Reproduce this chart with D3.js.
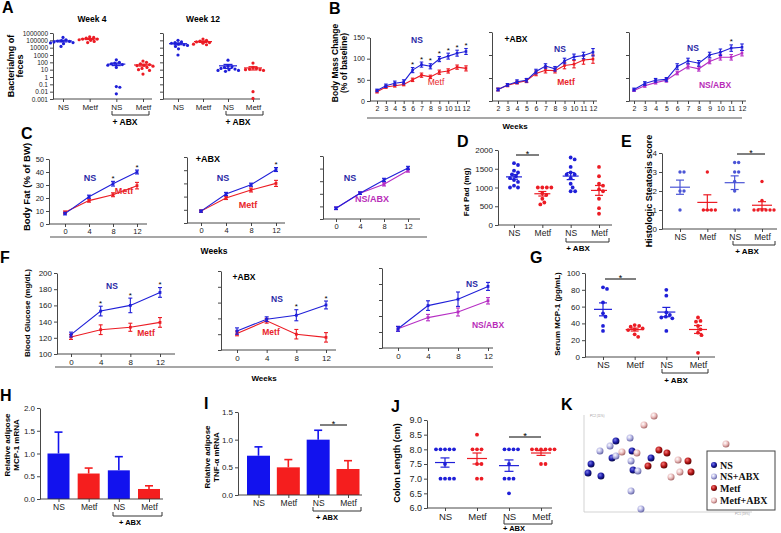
<!DOCTYPE html>
<html><head><meta charset="utf-8">
<script src="https://cdn.jsdelivr.net/npm/d3@7"></script>
<style>body{margin:0;background:#fff}svg{display:block}</style>
</head><body>
<script>
// ================= DATA =================
const groupKeys = ['NS','Metf','NS+ABX','Metf+ABX'];
const groupLabels = ['NS','Metf','NS','Metf'];

// A: bacteria / mg feces (log)
const aTicks = [1000000,100000,10000,1000,100,10,1,0.1,0.01,0.001];
const a4NS = [250000,120000,90000,80000,70000,60000,50000,45000,35000,15000];
const a4Metf = [300000,250000,200000,150000,150000,120000,100000,70000,50000];
const a4NSabx = [220,100,80,60,50,40,20,0.05,0.04,0.005];
const a4Metfabx = [150,100,60,50,40,35,30,20,15,10,8,2.5];
const a12NS = [100000,60000,50000,40000,30000,25000,20000,15000,7000,1000];
const a12Metf = [150000,100000,80000,60000,50000,40000,30000,25000];
const a12NSabx = [200,30,25,20,15,12,10,8,8,6];
const a12Metfabx = [80,20,15,12,10,10,8,0.01,0.0012];

// B: body mass change (% of baseline)
const bWeeks = [2,3,4,5,6,7,8,9,10,11,12];
const b1NS = [25,36,42,45,73,86,82,99,106,113,117];
const b1NSerr = [3,4,5,5,6,6,6,6,7,7,7];
const b1Metf = [22,33,36,39,50,61,57,68,71,80,77];
const b1Metferr = [3,3,3,3,4,5,4,5,5,5,6];
const b2NS = [25,35,42,45,64,76,70,87,96,99,106];
const b2NSerr = [3,3,4,4,5,5,5,6,6,7,8];
const b2Metf = [25,34,40,44,60,67,66,77,80,89,91];
const b2Metferr = [3,3,3,4,5,6,5,7,8,9,9];
const b3NS = [25,38,45,47,75,87,82,100,106,115,117];
const b3NSerr = [3,4,4,4,6,6,6,6,7,7,7];
const b3NSabx = [23,33,40,45,61,75,70,86,95,95,104];
const b3NSabxerr = [2,3,3,4,4,5,5,5,6,6,6];
const b1Stars = [6,7,8,9,10,11,12];
const b3Stars = [11];

// C: body fat (% of BW)
const cWeeks = [0,4,8,12];
const c1NS = [8,21,31,40], c1NSerr = [1,1.2,1.8,1.5];
const c1Metf = [9,18,22.5,29.5], c1Metferr = [1,1.2,1.5,2.5];
const c2NS = [9,22,29,40.5], c2NSerr = [0.8,1.2,1.2,1.5];
const c2Metf = [9,19,25,30], c2Metferr = [0.8,1.2,1.5,2.3];
const c3NS = [8.5,20.5,31,40.5], c3NSerr = [1,1,1.3,1.3];
const c3NSabx = [8.5,20.5,27.5,38.5], c3NSabxerr = [1,1,1.3,1.3];
const c1Stars = [8,12], c2Stars = [12];

// D: fat pad (mg)
const dNS = [1650,1600,1450,1400,1350,1300,1250,1200,1150,1050,1000,1000];
const dMetf = [1000,1000,1000,1000,850,800,700,600,550];
const dNSabx = [1800,1750,1550,1400,1350,1350,1250,1100,1000,900,900];
const dMetfabx = [1550,1300,1100,1050,950,900,700,450,300];

// E: histologic steatosis score
const eNS = [3,3,2,2,1];
const eMetf = [3,1,1,1,1];
const eNSabx = [3.5,3.5,3,3,2.5,2,1,1];
const eMetfabx = [2.5,1.5,1,1,1,1,1,1];

// F: blood glucose (mg/dL)
const fWeeks = [0,4,8,12];
const f1NS = [124,153,160,176], f1NSerr = [3,6,9,6];
const f1Metf = [121,130,133,139], f1Metferr = [3,6,5,6];
const f2NS = [124,139,144,157], f2NSerr = [4,3,7,5];
const f2Metf = [121,137,120,116], f2Metferr = [3,3,6,6];
const f3NS = [124,153,161,177], f3NSerr = [3,6,9,5];
const f3NSabx = [124,138,145,159], f3NSabxerr = [3,4,5,4];
const f1Stars = [4,8,12], f2Stars = [8,12];

// G: serum MCP-1 (pg/mL)
const gNS = [83,81,65,52,48,37,31];
const gMetf = [38,37,36,34,33,32,27,24];
const gNSabx = [80,73,53,50,48,47,46,31];
const gMetfabx = [47,43,42,37,33,29,26,5];

// H / I: relative adipose mRNA (bars, mean + SEM)
const hMeans = [1.0,0.56,0.63,0.22], hErr = [0.47,0.12,0.30,0.07];
const iMeans = [0.71,0.50,1.0,0.47], iErr = [0.16,0.14,0.17,0.15];

// J: colon length (cm)
const jNS = [8,8,8,8,8,7.5,7,7,7,7];
const jMetf = [8.5,8,8,8,7.5,7.5,7,7];
const jNSabx = [8,8,8,8,7.5,7,7,7,6.5];
const jMetfabx = [8,8,8,8,8,8,7.5,7.5];

// K: ordination (PC1, PC2 in %-of-axis units)
const kNS = [[2.4,40.2],[4.2,49.5],[10.1,37.1],[19.0,73.2],[16.7,55.7],[28.6,62.9],[29.2,43.3],[39.9,55.7]];
const kNSabx = [[9.5,62.9],[15.5,68.0],[19.0,57.7],[27.4,76.3],[28.0,52.6],[32.1,42.3],[28.0,21.6],[33.9,3.1]];
const kMetf = [[38.1,47.4],[44.6,63.9],[49.4,60.8],[47.6,48.5],[61.9,52.6],[63.7,41.2]];
const kMetfabx = [[41.7,99],[35.7,89.7],[22.6,61.9],[31.5,60.8],[56.0,53.6],[57.1,41.2],[51.8,36.1],[84.5,70.1]];
const kLegend = ['NS','NS+ABX','Metf','Metf+ABX'];

// ================= STYLE =================
const FONT = "'Liberation Sans', Arial, Helvetica, sans-serif";
const BLUE = '#1f1fd8', RED = '#ec1c24', MAG = '#b62ec4';
const NSL = '#2a2aa6', METL = '#e8252b', ABXL = '#b82cb8';
const AX = '#333';
const BAR_B = '#1212ee', BAR_R = '#f51e1e';

const svg = d3.select('body').append('svg').attr('width',781).attr('height',533)
  .attr('font-family',FONT);

function text(x,y,s,o={}){
  const t = svg.append('text').attr('x',x).attr('y',y).text(s)
    .attr('font-size',o.size||9).attr('font-weight',o.bold?'bold':'normal')
    .attr('fill',o.color||'#000').attr('text-anchor',o.anchor||'middle');
  if(o.rot) t.attr('transform',`rotate(-90,${x},${y})`);
  if(o.family) t.attr('font-family',o.family);
  return t;
}
function letter(x,y,s){ text(x,y,s,{size:16,bold:true,anchor:'start'}); }
function sty(g,fs){
  g.attr('font-family',FONT).attr('font-size',fs);
  g.selectAll('.domain,.tick line').attr('stroke',AX).attr('stroke-width',0.9);
  g.selectAll('text').attr('fill','#222');
}
function yAxis(x,scale,ticks,fmt,fs,labels=true){
  const g = svg.append('g').attr('transform',`translate(${x},0)`)
    .call(d3.axisLeft(scale).tickValues(ticks).tickSize(3).tickSizeOuter(0).tickPadding(2)
      .tickFormat(labels?fmt:()=>''));
  sty(g,fs); return g;
}
function xLine(y,x0,x1){
  svg.append('line').attr('x1',x0).attr('x2',x1).attr('y1',y).attr('y2',y)
    .attr('stroke',AX).attr('stroke-width',0.9);
}
function catAxis(y,x0,x1,xs,fs){
  xLine(y,x0,x1);
  const g = svg.append('g').attr('transform',`translate(0,${y})`)
    .call(d3.axisBottom(xs).tickSize(3).tickPadding(2).tickFormat(d=>groupLabels[groupKeys.indexOf(d)]));
  g.select('.domain').remove(); sty(g,fs);
}
function bracket(x1,x2,y,tx,ty,fs){
  svg.append('path').attr('d',`M${x1},${y-4}V${y}H${x2}V${y-4}`)
    .attr('fill','none').attr('stroke',AX).attr('stroke-width',1);
  text(tx,ty,'+ ABX',{size:fs,bold:true});
}
function sig(x1,x2,y,fs=9){
  svg.append('line').attr('x1',x1).attr('x2',x2).attr('y1',y).attr('y2',y).attr('stroke','#000').attr('stroke-width',1);
  text((x1+x2)/2,y+1.5,'*',{size:fs});
}
function weeksLine(y,x0,x1,ty,tx,fs){
  svg.append('line').attr('x1',x0).attr('x2',x1).attr('y1',y).attr('y2',y)
    .attr('stroke','#8a8a8a').attr('stroke-width',1.6);
  text(tx,ty,'Weeks',{size:fs,bold:true});
}

// dot plot with beeswarm placement and mean ± SEM
function dotGroups(xs,ys,groups,colors,o){
  groups.forEach((vals,gi)=>{
    const cx = xs(groupKeys[gi]);
    const r = o.r, minD = 2*r+0.35;
    const placed = [];
    vals.slice().sort((a,b)=>b-a).forEach(v=>{
      const y = ys(v); let dx = 0;
      for(let k=0;k<300;k++){
        const c = (k%2?1:-1)*Math.ceil(k/2)*0.5;
        if(placed.every(p=>Math.hypot(p.x-c,p.y-y)>=minD)){dx=c;break;}
      }
      placed.push({x:dx,y});
    });
    svg.append('g').selectAll('circle').data(placed).join('circle')
      .attr('cx',d=>cx+d.x).attr('cy',d=>d.y).attr('r',r).attr('fill',colors[gi]);
    const m = d3.mean(vals), se = d3.deviation(vals)/Math.sqrt(vals.length);
    const lo = o.log ? Math.max(m-se, ys.domain()[0]) : m-se;
    const g = svg.append('g').attr('stroke',colors[gi]).attr('stroke-width',1.2);
    g.append('line').attr('x1',cx-o.mw/2).attr('x2',cx+o.mw/2).attr('y1',ys(m)).attr('y2',ys(m));
    g.append('line').attr('x1',cx).attr('x2',cx).attr('y1',ys(lo)).attr('y2',ys(m+se));
    [lo,m+se].forEach(v=>g.append('line').attr('x1',cx-o.cw/2).attr('x2',cx+o.cw/2).attr('y1',ys(v)).attr('y2',ys(v)));
  });
}

// line chart with error bars
function lineChart(o){
  const x = d3.scaleLinear().domain(d3.extent(o.weeks)).range(o.xr);
  const y = d3.scaleLinear().domain(o.yd).range(o.yr);
  yAxis(o.ax,y,o.yt,d3.format('d'),o.fs,o.ylab);
  xLine(o.yr[0],o.ax,o.xe);
  const gx = svg.append('g').attr('transform',`translate(0,${o.yr[0]})`)
    .call(d3.axisBottom(x).tickValues(o.weeks).tickSize(3).tickPadding(2).tickFormat(d3.format('d')));
  gx.select('.domain').remove(); sty(gx,o.fs);
  o.series.forEach(s=>{
    const pts = o.weeks.map((w,i)=>({w,v:s.v[i],e:s.e[i]}));
    svg.append('path').datum(pts).attr('d',d3.line().x(d=>x(d.w)).y(d=>y(d.v)))
      .attr('fill','none').attr('stroke',s.c).attr('stroke-width',1.1);
    const g = svg.append('g').attr('stroke',s.c).attr('stroke-width',1.1);
    pts.forEach(d=>{
      g.append('line').attr('x1',x(d.w)).attr('x2',x(d.w)).attr('y1',y(d.v-d.e)).attr('y2',y(d.v+d.e));
      [d.v-d.e,d.v+d.e].forEach(v=>g.append('line').attr('x1',x(d.w)-o.cap/2).attr('x2',x(d.w)+o.cap/2).attr('y1',y(v)).attr('y2',y(v)));
    });
    svg.append('g').selectAll('rect').data(pts).join('rect')
      .attr('x',d=>x(d.w)-o.ms/2).attr('y',d=>y(d.v)-o.ms/2).attr('width',o.ms).attr('height',o.ms).attr('fill',s.c);
  });
  if(o.stars){
    const s = o.series[o.starSeries];
    o.stars.forEach(w=>{
      const i = o.weeks.indexOf(w);
      text(x(w),y(s.v[i]+s.e[i])-0.5,'*',{size:8});
    });
  }
  return {x,y};
}

// bar chart with upward SEM
function barChart(o){
  const ys = d3.scaleLinear().domain(o.yd).range(o.yr);
  const xs = d3.scalePoint().domain(groupKeys).range(o.xr);
  yAxis(o.ax,ys,o.yt,d3.format('.1f'),o.fs);
  const cols = [BAR_B,BAR_R,BAR_B,BAR_R];
  o.means.forEach((m,i)=>{
    const cx = xs(groupKeys[i]);
    const g = svg.append('g').attr('stroke',cols[i]).attr('stroke-width',1.6);
    g.append('line').attr('x1',cx).attr('x2',cx).attr('y1',ys(m)).attr('y2',ys(m+o.err[i]));
    g.append('line').attr('x1',cx-o.cap/2).attr('x2',cx+o.cap/2).attr('y1',ys(m+o.err[i])).attr('y2',ys(m+o.err[i]));
    svg.append('rect').attr('x',cx-o.bw/2).attr('width',o.bw).attr('y',ys(m)).attr('height',ys(0)-ys(m)).attr('fill',cols[i]);
  });
  catAxis(o.yr[0],o.ax,o.xe,xs,o.xfs);
  return {xs,ys};
}

// ================= PANEL A =================
letter(2,13,'A');
text(92,22,'Week 4',{size:8.5,bold:true});
text(203,22,'Week 12',{size:8.5,bold:true});
text(14,66,'Bacteria/mg of',{size:9,bold:true,rot:true});
text(23,66,'feces',{size:9,bold:true,rot:true});
const yA = d3.scaleLog().domain([0.001,1e6]).range([99,33]);
yAxis(53,yA,aTicks,d=>String(d),6.5);
const xA4 = d3.scalePoint().domain(groupKeys).range([63,143]);
catAxis(99,53,152,xA4,8);
dotGroups(xA4,yA,[a4NS,a4Metf,a4NSabx,a4Metfabx],[BLUE,RED,BLUE,RED],{r:1.6,mw:18,cw:9,log:true});
yAxis(163,yA,aTicks,null,6.5,false);
const xA12 = d3.scalePoint().domain(groupKeys).range([178,253]);
catAxis(99,163,260,xA12,8);
dotGroups(xA12,yA,[a12NS,a12Metf,a12NSabx,a12Metfabx],[BLUE,RED,BLUE,RED],{r:1.6,mw:18,cw:9,log:true});
bracket(112,149,115,125,125,8.5);
bracket(226,263,115,238,125,8.5);

// ================= PANEL B =================
letter(329,14,'B');
text(338,63,'Body Mass Change',{size:8.5,bold:true,rot:true});
text(347,63,'(% of baseline)',{size:8.5,bold:true,rot:true});
const bYT = [0,50,100,150];
lineChart({weeks:bWeeks,ax:370,xr:[377,466],xe:470,yd:[0,150],yr:[101,37.5],yt:bYT,ylab:true,fs:7,cap:3.5,ms:2.6,
  series:[{v:b1Metf,e:b1Metferr,c:RED},{v:b1NS,e:b1NSerr,c:BLUE}],stars:b1Stars,starSeries:1});
lineChart({weeks:bWeeks,ax:492,xr:[498,593],xe:597,yd:[0,150],yr:[101,32],yt:bYT,ylab:false,fs:7,cap:3.5,ms:2.6,
  series:[{v:b2Metf,e:b2Metferr,c:RED},{v:b2NS,e:b2NSerr,c:BLUE}]});
lineChart({weeks:bWeeks,ax:629,xr:[634,742],xe:746,yd:[0,150],yr:[101,32],yt:bYT,ylab:false,fs:7,cap:3.5,ms:2.6,
  series:[{v:b3NSabx,e:b3NSabxerr,c:MAG},{v:b3NS,e:b3NSerr,c:BLUE}],stars:b3Stars,starSeries:1});
text(417,43,'NS',{size:8.5,bold:true,color:NSL});
text(436,85,'Metf',{size:8.5,color:METL});
text(516,42,'+ABX',{size:8.5,bold:true});
text(560,52,'NS',{size:8.5,bold:true,color:NSL});
text(566,85,'Metf',{size:8.5,bold:true,color:METL});
text(693,51,'NS',{size:8.5,bold:true,color:NSL});
text(715,88,'NS/ABX',{size:8.5,bold:true,color:ABXL});
weeksLine(118,367,742,129,515,8);

// ================= PANEL C =================
letter(21,139,'C');
text(30,187,'Body Fat (% of BW)',{size:9.5,bold:true,rot:true});
const cYT = [0,10,20,30,40,50];
lineChart({weeks:cWeeks,ax:49,xr:[65,137],xe:147,yd:[0,50],yr:[224,159],yt:cYT,ylab:true,fs:7.5,cap:4,ms:2.8,
  series:[{v:c1Metf,e:c1Metferr,c:RED},{v:c1NS,e:c1NSerr,c:BLUE}],stars:c1Stars,starSeries:1});
lineChart({weeks:cWeeks,ax:187,xr:[201,276],xe:285,yd:[0,50],yr:[223,157],yt:cYT,ylab:false,fs:7.5,cap:4,ms:2.8,
  series:[{v:c2Metf,e:c2Metferr,c:RED},{v:c2NS,e:c2NSerr,c:BLUE}],stars:c2Stars,starSeries:1});
lineChart({weeks:cWeeks,ax:323,xr:[336,408],xe:420,yd:[0,50],yr:[219,156],yt:cYT,ylab:false,fs:7.5,cap:4,ms:2.8,
  series:[{v:c3NSabx,e:c3NSabxerr,c:MAG},{v:c3NS,e:c3NSerr,c:BLUE}]});
text(90,181,'NS',{size:9,bold:true,color:NSL});
text(124,194,'Metf',{size:9,bold:true,color:METL});
text(208,162,'+ABX',{size:9,bold:true});
text(223,181,'NS',{size:9,bold:true,color:NSL});
text(248,208,'Metf',{size:9,bold:true,color:METL});
text(350,181,'NS',{size:9,bold:true,color:NSL});
text(372,202,'NS/ABX',{size:9,bold:true,color:ABXL});
weeksLine(237,50,427,254,214,8.5);

// ================= PANEL D =================
letter(457,147,'D');
text(469,192,'Fat Pad (mg)',{size:8,bold:true,rot:true});
const yD = d3.scaleLinear().domain([0,2000]).range([225,150]);
yAxis(498,yD,[0,500,1000,1500,2000],d3.format('d'),8);
const xD = d3.scalePoint().domain(groupKeys).range([514,599]);
catAxis(225,498,612,xD,8.5);
dotGroups(xD,yD,[dNS,dMetf,dNSabx,dMetfabx],[BLUE,RED,BLUE,RED],{r:1.9,mw:16,cw:8});
sig(516,539,155);
bracket(566,609,242,578,250.5,8);

// ================= PANEL E =================
letter(621,147,'E');
text(652,191,'Histologic  Steatosis score',{size:9,bold:true,rot:true});
const yE = d3.scaleLinear().domain([0,4]).range([229,153]);
yAxis(662,yE,[0,1,2,3,4],d3.format('d'),8);
const xE = d3.scalePoint().domain(groupKeys).range([680,762]);
catAxis(229,662,777,xE,8.5);
dotGroups(xE,yE,[eNS,eMetf,eNSabx,eMetfabx],['#4b55d6',RED,'#4b55d6',RED],{r:1.7,mw:20,cw:8});
sig(737,765,154);
bracket(733,775,245,747,254,8);

// ================= PANEL F =================
letter(0,263,'F');
text(30,313,'Blood Glucose (mg/dL)',{size:8,bold:true,rot:true});
const fYT = [100,120,140,160,180,200];
lineChart({weeks:fWeeks,ax:57,xr:[71,160],xe:175,yd:[100,200],yr:[354,273],yt:fYT,ylab:true,fs:8,cap:4,ms:2.8,
  series:[{v:f1Metf,e:f1Metferr,c:RED},{v:f1NS,e:f1NSerr,c:BLUE}],stars:f1Stars,starSeries:1});
lineChart({weeks:fWeeks,ax:221,xr:[237,326],xe:336,yd:[100,200],yr:[350,271],yt:fYT,ylab:false,fs:8,cap:4,ms:2.8,
  series:[{v:f2Metf,e:f2Metferr,c:RED},{v:f2NS,e:f2NSerr,c:BLUE}],stars:f2Stars,starSeries:1});
lineChart({weeks:fWeeks,ax:382,xr:[398,488],xe:493,yd:[100,200],yr:[348,268],yt:fYT,ylab:false,fs:8,cap:4,ms:2.8,
  series:[{v:f3NSabx,e:f3NSabxerr,c:MAG},{v:f3NS,e:f3NSerr,c:BLUE}]});
text(112,289,'NS',{size:8.5,bold:true,color:NSL});
text(146,336,'Metf',{size:8.5,bold:true,color:METL});
text(244,280,'+ABX',{size:8.5,bold:true});
text(277,302,'NS',{size:8.5,bold:true,color:NSL});
text(271,335,'Metf',{size:8.5,bold:true,color:METL});
text(472,287,'NS',{size:8.5,bold:true,color:NSL});
text(488,328,'NS/ABX',{size:8.5,bold:true,color:ABXL});
weeksLine(367,55,493,381,264,8);

// ================= PANEL G =================
letter(530,263,'G');
text(560,314,'Serum MCP-1 (pg/mL)',{size:8,bold:true,rot:true});
const yG = d3.scaleLinear().domain([0,100]).range([357,273]);
yAxis(585,yG,[0,20,40,60,80,100],d3.format('d'),8);
const xG = d3.scalePoint().domain(groupKeys).range([603,698]);
catAxis(357,585,715,xG,9);
dotGroups(xG,yG,[gNS,gMetf,gNSabx,gMetfabx],[BLUE,RED,BLUE,RED],{r:1.9,mw:18,cw:8});
sig(605,636,279);
bracket(662,708,373,676,383,8);

// ================= PANEL H =================
letter(0,401,'H');
text(10,445,'Relative adipose',{size:8,bold:true,rot:true});
text(19,445,'MCP-1 mRNA',{size:8,bold:true,rot:true});
barChart({ax:40,yd:[0,2],yr:[499,408],yt:[0,0.5,1,1.5,2],xr:[58.5,149],xe:163,means:hMeans,err:hErr,bw:22,cap:8,fs:8,xfs:8.5});
bracket(113,162,516,130,525,7.5);

// ================= PANEL I =================
letter(204,409,'I');
text(210,457,'Relative adipose',{size:8,bold:true,rot:true});
text(219,457,'TNF-\u03b1 mRNA',{size:8,bold:true,rot:true});
barChart({ax:238,yd:[0,1.5],yr:[495,412],yt:[0,0.5,1,1.5],xr:[258.5,348],xe:362,means:iMeans,err:iErr,bw:23,cap:8,fs:8,xfs:8.5});
sig(320,347,425);
bracket(313,361,511,327,519.5,7.5);

// ================= PANEL J =================
letter(391,412,'J');
text(400,463,'Colon Length (cm)',{size:9,bold:true,rot:true});
const yJ = d3.scaleLinear().domain([6,9]).range([508,420]);
yAxis(427,yJ,[6,6.5,7,7.5,8,8.5,9],d3.format('.1f'),9);
const xJ = d3.scalePoint().domain(groupKeys).range([445,541]);
catAxis(508,427,552,xJ,9.5);
dotGroups(xJ,yJ,[jNS,jMetf,jNSabx,jMetfabx],[BLUE,RED,BLUE,RED],{r:1.9,mw:20,cw:9});
sig(509,541,437,9.5);
bracket(504,552,524,514,531,7.5);

// ================= PANEL K =================
letter(561,410,'K');
const kx = d3.scaleLinear().domain([0,100]).range([584,752]);
const ky = d3.scaleLinear().domain([0,100]).range([512,415]);
svg.append('line').attr('x1',kx(0)).attr('x2',kx(0)).attr('y1',ky(100)).attr('y2',ky(0)).attr('stroke','#c8c8c8').attr('stroke-width',0.8);
svg.append('line').attr('x1',kx(0)).attr('x2',kx(100)).attr('y1',ky(0)).attr('y2',ky(0)).attr('stroke','#c8c8c8').attr('stroke-width',0.8);
text(590,416.5,'PC2 (11%)',{size:3,color:'#999',anchor:'start'});
text(735,514.5,'PC1 (19%)',{size:3,color:'#999',anchor:'start'});
const defs = svg.append('defs');
const kStops = [
  ['#7a7ae8','#1c1ca8','#08084a'],
  ['#ffffff','#b4b4e4','#6666a4'],
  ['#f47a7a','#b81818','#5a0404'],
  ['#ffffff','#eabcbc','#a86a6a']];
kStops.forEach((s,i)=>{
  const gr = defs.append('radialGradient').attr('id','ks'+i).attr('cx','38%').attr('cy','35%').attr('r','65%');
  gr.append('stop').attr('offset','0%').attr('stop-color',s[0]);
  gr.append('stop').attr('offset','55%').attr('stop-color',s[1]);
  gr.append('stop').attr('offset','100%').attr('stop-color',s[2]);
});
[kNS,kNSabx,kMetf,kMetfabx].forEach((pts,i)=>{
  svg.append('g').selectAll('circle').data(pts).join('circle')
    .attr('cx',d=>kx(d[0])).attr('cy',d=>ky(d[1])).attr('r',3.5).attr('fill',`url(#ks${i})`);
});
svg.append('rect').attr('x',707).attr('y',451).attr('width',68).attr('height',59)
  .attr('fill','#fff').attr('stroke','#444').attr('stroke-width',1);
const legY = [465,476.5,488,500.5];
kLegend.forEach((s,i)=>{
  svg.append('circle').attr('cx',714).attr('cy',legY[i]).attr('r',3).attr('fill',`url(#ks${i})`);
  text(720,legY[i]+3.5,s,{size:10,bold:true,anchor:'start',family:"'Liberation Serif', 'Times New Roman', serif",color:'#111'});
});
</script>
</body></html>
